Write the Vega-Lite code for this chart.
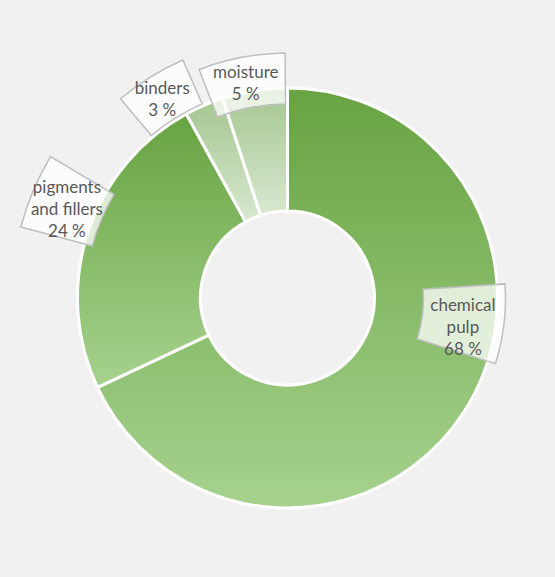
{
  "$schema": "https://vega.github.io/schema/vega-lite/v6.json",
  "width": 535,
  "height": 558,
  "autosize": "none",
  "padding": {"left": 20, "top": 19, "right": 0, "bottom": 0},
  "background": "#f1f1f1",
  "config": {
    "view": {"stroke": null},
    "text": {"font": "Lato", "fontSize": 17, "fill": "#595959", "lineHeight": 22, "lineBreak": "\n", "align": "center", "baseline": "middle"}
  },
  "data": {
    "values": [
      {"order": 1, "component": "chemical pulp", "label": "chemical\npulp", "share": 68},
      {"order": 2, "component": "pigments and fillers", "label": "pigments\nand fillers", "share": 24},
      {"order": 3, "component": "binders", "label": "binders", "share": 3},
      {"order": 4, "component": "moisture", "label": "moisture", "share": 5}
    ]
  },
  "transform": [
    {"stack": "share", "groupby": [], "sort": [{"field": "order", "order": "ascending"}], "as": ["s0", "s1"]},
    {"calculate": "datum.label + '\\n' + datum.share + ' %'", "as": "text"}
  ],
  "layer": [
    {
      "mark": {"type": "arc", "radius": 210, "radius2": 87, "stroke": "white", "strokeWidth": 3},
      "encoding": {
        "theta": {"field": "s0", "type": "quantitative", "scale": {"domain": [0, 100]}},
        "theta2": {"field": "s1"},
        "color": {
          "condition": {
            "test": "datum.component === 'binders' || datum.component === 'moisture'",
            "value": {"gradient": "linear", "x1": 0, "y1": 0, "x2": 0, "y2": 1, "stops": [{"offset": 0, "color": "#a3c68f"}, {"offset": 1, "color": "#d9e8d0"}]}
          },
          "value": {"gradient": "linear", "x1": 0, "y1": 0, "x2": 0, "y2": 1, "stops": [{"offset": 0, "color": "#67a341"}, {"offset": 1, "color": "#a6d28e"}]}
        }
      }
    },
    {
      "transform": [{"filter": "datum.component === 'chemical pulp'"}],
      "mark": {"type": "arc", "radius": 218, "radius2": 136, "thetaOffset": 1.506, "theta2Offset": -2.396, "fill": "white", "fillOpacity": 0.75, "stroke": "#bfbfbf", "strokeWidth": 1.5},
      "encoding": {"theta": {"field": "s0", "type": "quantitative"}, "theta2": {"field": "s1"}}
    },
    {
      "transform": [{"filter": "datum.component === 'pigments and fillers'"}],
      "mark": {"type": "arc", "radius": 276, "radius2": 202, "thetaOffset": 0.70, "theta2Offset": -0.53, "fill": "white", "fillOpacity": 0.75, "stroke": "#bfbfbf", "strokeWidth": 1.5},
      "encoding": {"theta": {"field": "s0", "type": "quantitative"}, "theta2": {"field": "s1"}}
    },
    {
      "transform": [{"filter": "datum.component === 'binders'"}],
      "mark": {"type": "arc", "radius": 260, "radius2": 212, "thetaOffset": -0.195, "theta2Offset": -0.1, "fill": "white", "fillOpacity": 0.75, "stroke": "#bfbfbf", "strokeWidth": 1.5},
      "encoding": {"theta": {"field": "s0", "type": "quantitative"}, "theta2": {"field": "s1"}}
    },
    {
      "transform": [{"filter": "datum.component === 'moisture'"}],
      "mark": {"type": "arc", "radius": 245, "radius2": 194, "thetaOffset": -0.055, "theta2Offset": -0.01, "fill": "white", "fillOpacity": 0.75, "stroke": "#bfbfbf", "strokeWidth": 1.5},
      "encoding": {"theta": {"field": "s0", "type": "quantitative"}, "theta2": {"field": "s1"}}
    },
    {
      "transform": [{"filter": "datum.component === 'chemical pulp'"}],
      "mark": {"type": "text", "radius": 178, "thetaOffset": 1.742, "dy": -22},
      "encoding": {"theta": {"field": "s0", "type": "quantitative"}, "text": {"field": "text"}}
    },
    {
      "transform": [{"filter": "datum.component === 'pigments and fillers'"}],
      "mark": {"type": "text", "radius": 238, "thetaOffset": 0.8245, "dy": -21},
      "encoding": {"theta": {"field": "s0", "type": "quantitative"}, "text": {"field": "text"}}
    },
    {
      "transform": [{"filter": "datum.component === 'binders'"}],
      "mark": {"type": "text", "radius": 235, "thetaOffset": -0.0593, "dy": -10},
      "encoding": {"theta": {"field": "s0", "type": "quantitative"}, "text": {"field": "text"}}
    },
    {
      "transform": [{"filter": "datum.component === 'moisture'"}],
      "mark": {"type": "text", "radius": 219, "thetaOffset": 0.1222, "dy": -10},
      "encoding": {"theta": {"field": "s0", "type": "quantitative"}, "text": {"field": "text"}}
    }
  ]
}
